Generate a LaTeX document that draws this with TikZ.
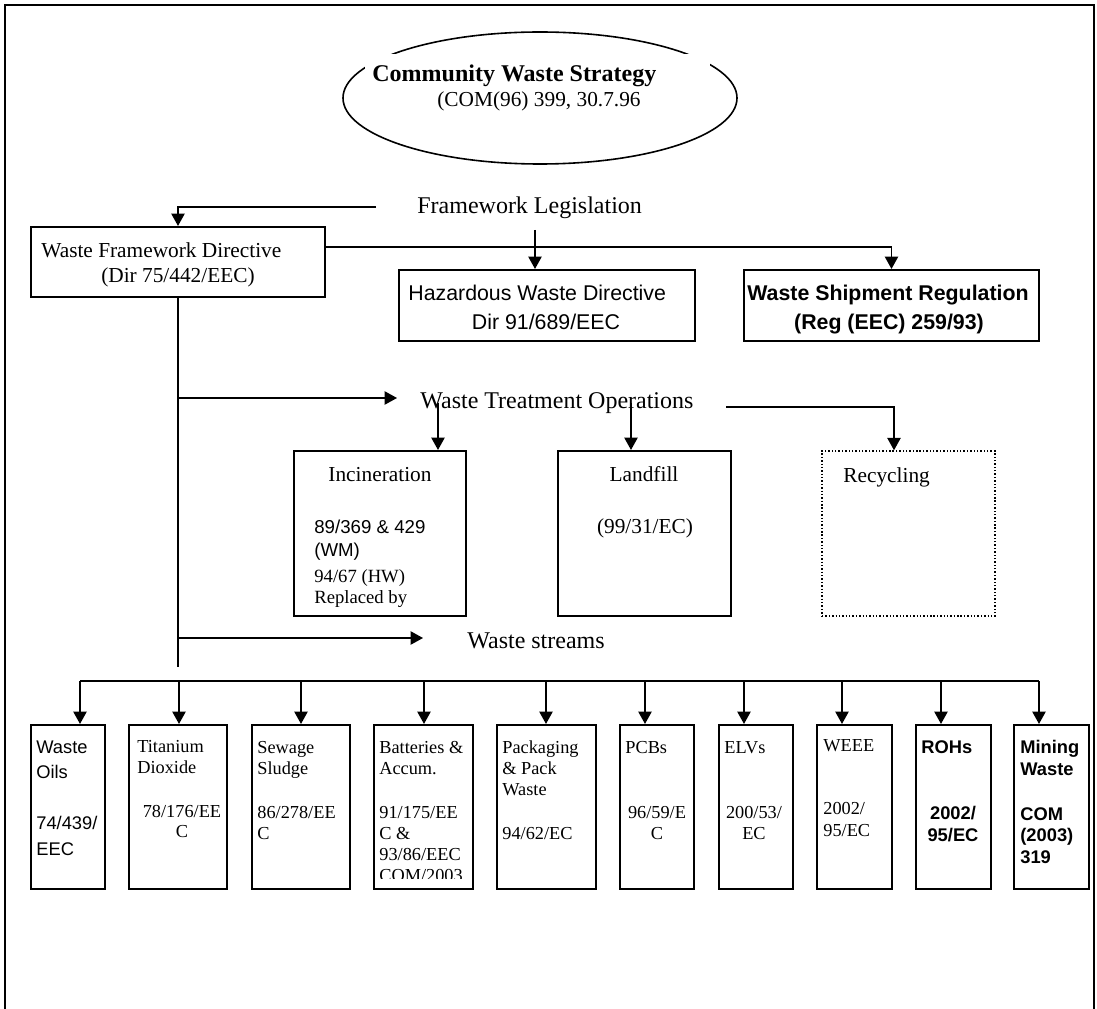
\documentclass[tikz,border=0pt]{standalone}
\usepackage{fontspec}
\setmainfont{Liberation Serif}
\setsansfont{Liberation Sans}
\usetikzlibrary{arrows.meta,shapes.geometric}
\newcommand{\px}{0.5625pt}
\tikzset{
  box/.style={draw, line width=1.15pt, inner sep=0pt},
  conn/.style={line width=.9pt},
  arr/.style={conn, -{Triangle[length=7pt,width=7.5pt]}},
  lbl/.style={inner sep=0pt, text height=.7em, text depth=0pt},
  txtbig/.style={lbl, font=\fontsize{13.5}{16}\selectfont},
  txt/.style={lbl, font=\fontsize{12}{14}\selectfont},
  txtsf/.style={lbl, font=\sffamily\fontsize{12}{14}\selectfont},
  txtsmall/.style={lbl, font=\fontsize{10.5}{12}\selectfont},
  txtsmallsf/.style={lbl, font=\sffamily\fontsize{10.5}{12}\selectfont},
  cell/.style={lbl, font=\fontsize{10.3}{12}\selectfont},
  cellsf/.style={lbl, font=\sffamily\fontsize{10.3}{12}\selectfont},
  cellbf/.style={lbl, font=\sffamily\bfseries\fontsize{10.3}{12}\selectfont},
  stream/.style={box, minimum height=164*\px},
}
\begin{document}
\begin{tikzpicture}[x=0.5625pt,y=-0.5625pt]
\useasboundingbox (0,0) rectangle (1097,1009);
\draw[line width=1.15pt] (5,1009) -- (5,5) -- (1094,5) -- (1094,1009);
% strategy
\node[draw, ellipse, line width=.9pt, inner sep=0pt, minimum width=394*\px, minimum height=132*\px] (cws) at (540,98) {};
\node[fill=white, inner sep=0pt, minimum width=345*\px, minimum height=62*\px] (cwsbg) at (537.5,85) {};
\node[txtbig, anchor=west, font=\bfseries\fontsize{13.5}{16}\selectfont] (cws1) at (372,75) {Community Waste Strategy};
\node[txt, anchor=west] (cws2) at (437,100) {(COM(96) 399, 30.7.96};
% framework legislation
\node[txtbig, anchor=west] (fl) at (417,207) {Framework Legislation};
\node[box, minimum width=294*\px, minimum height=70*\px] (wfd) at (178,262) {};
\node[txt, anchor=west] (wfd1) at (41,251) {Waste Framework Directive};
\node[txt] (wfd2) at (178,276) {(Dir 75/442/EEC)};
\node[box, minimum width=296*\px, minimum height=71*\px] (haz) at (547,305.5) {};
\node[txtsf, anchor=west] (haz1) at (408,294) {Hazardous Waste Directive};
\node[txtsf] (haz2) at (546,323) {Dir 91/689/EEC};
\node[box, minimum width=295*\px, minimum height=71*\px] (ship) at (891.5,305.5) {};
\node[txtsf, font=\sffamily\bfseries\fontsize{12}{14}\selectfont] (ship1) at (888,294) {Waste Shipment Regulation};
\node[txtsf, font=\sffamily\bfseries\fontsize{12}{14}\selectfont] (ship2) at (889,323) {(Reg (EEC) 259/93)};
\coordinate (flstart) at (376,207);
\coordinate (hazstart) at (535,230);
\coordinate (wfdout) at (325,247);
\draw[arr] (flstart) -| (wfd.north);
\draw[arr] (hazstart) -- (hazstart |- haz.north);
\draw[arr] (wfdout) -| (ship.north);
% trunk
\coordinate (trunkend) at (178,667);
\draw[conn] (wfd.south) -- (trunkend);
% treatment operations
\node[txtbig, anchor=west] (wto) at (420,402) {Waste Treatment Operations};
\coordinate (wtofeed) at (178,398);
\coordinate (wtotip) at (397,398);
\draw[arr] (wtofeed) -- (wtotip);
\node[box, minimum width=172*\px, minimum height=165*\px] (inc) at (380,533.5) {};
\node[txt] (inc1) at (380,475) {Incineration};
\node[txtsmallsf, anchor=west] (inc2) at (314,527) {89/369 \& 429};
\node[txtsmallsf, anchor=west] (inc3) at (314,550) {(WM)};
\node[txtsmall, anchor=west] (inc4) at (314,576) {94/67 (HW)};
\node[txtsmall, anchor=west] (inc5) at (314,597) {Replaced by};
\node[box, minimum width=173*\px, minimum height=165*\px] (lf) at (644.5,533.5) {};
\node[txt] (lf1) at (644,475) {Landfill};
\node[txt] (lf2) at (645,527) {(99/31/EC)};
\node[draw, dash pattern=on .8pt off 1.1pt, line width=.8pt, inner sep=0pt, minimum width=173*\px, minimum height=165*\px] (rec) at (908.5,533.5) {};
\node[txt, anchor=west] (rec1) at (843,476) {Recycling};
\coordinate (incfeed) at (438,403);
\coordinate (lffeed) at (631,403);
\coordinate (recfeed) at (726,407);
\coordinate (recdrop) at (894,407);
\draw[arr] (incfeed) -- (incfeed |- inc.north);
\draw[arr] (lffeed) -- (lffeed |- lf.north);
\draw[arr] (recfeed) -- (recdrop) -- (recdrop |- rec.north);
% waste streams
\node[txtbig, anchor=west] (ws) at (467,642) {Waste streams};
\coordinate (wsfeed) at (178,638);
\coordinate (wstip) at (423,638);
\draw[arr] (wsfeed) -- (wstip);
\node[stream, minimum width=74*\px] (oils) at (68,807) {};
\node[stream, minimum width=98*\px] (ti) at (178,807) {};
\node[stream, minimum width=98*\px] (sew) at (301,807) {};
\node[stream, minimum width=99*\px] (bat) at (423.5,807) {};
\node[stream, minimum width=99*\px] (pack) at (546.5,807) {};
\node[stream, minimum width=74*\px] (pcb) at (657,807) {};
\node[stream, minimum width=74*\px] (elv) at (756,807) {};
\node[stream, minimum width=75*\px] (weee) at (854.5,807) {};
\node[stream, minimum width=75*\px] (rohs) at (953.5,807) {};
\node[stream, minimum width=75*\px] (mine) at (1051.5,807) {};
\coordinate (b1) at (80,681);
\coordinate (b2) at (179,681);
\coordinate (b3) at (301,681);
\coordinate (b4) at (424,681);
\coordinate (b5) at (546,681);
\coordinate (b6) at (645,681);
\coordinate (b7) at (744,681);
\coordinate (b8) at (842,681);
\coordinate (b9) at (941,681);
\coordinate (b10) at (1039,681);
\draw[conn] (b1) -- (b10);
\draw[arr] (b1) -- (b1 |- oils.north);
\draw[arr] (b2) -- (b2 |- ti.north);
\draw[arr] (b3) -- (b3 |- sew.north);
\draw[arr] (b4) -- (b4 |- bat.north);
\draw[arr] (b5) -- (b5 |- pack.north);
\draw[arr] (b6) -- (b6 |- pcb.north);
\draw[arr] (b7) -- (b7 |- elv.north);
\draw[arr] (b8) -- (b8 |- weee.north);
\draw[arr] (b9) -- (b9 |- rohs.north);
\draw[arr] (b10) -- (b10 |- mine.north);
% stream labels
\node[cellsf, anchor=west] (oils1) at (36,747) {Waste};
\node[cellsf, anchor=west] (oils2) at (36,772) {Oils};
\node[cellsf, anchor=west] (oils3) at (36,823) {74/439/};
\node[cellsf, anchor=west] (oils4) at (36,849) {EEC};
\node[cell, anchor=west] (ti1) at (137,746) {Titanium};
\node[cell, anchor=west] (ti2) at (137,767) {Dioxide};
\node[cell] (ti3) at (182,811) {78/176/EE};
\node[cell] (ti4) at (182,831) {C};
\node[cell, anchor=west] (sew1) at (257,747) {Sewage};
\node[cell, anchor=west] (sew2) at (257,768) {Sludge};
\node[cell, anchor=west] (sew3) at (257,812) {86/278/EE};
\node[cell, anchor=west] (sew4) at (257,833) {C};
\node[cell, anchor=west] (bat1) at (379,747) {Batteries \&};
\node[cell, anchor=west] (bat2) at (379,768) {Accum.};
\node[cell, anchor=west] (bat3) at (379,812) {91/175/EE};
\node[cell, anchor=west] (bat4) at (379,833) {C \&};
\node[cell, anchor=west] (bat5) at (379,854) {93/86/EEC};
\begin{scope}
\clip (374,725) rectangle (473,878);
\node[cell, anchor=west] (bat6) at (379,875) {COM/2003};
\end{scope}
\node[cell, anchor=west] (pack1) at (502,747) {Packaging};
\node[cell, anchor=west] (pack2) at (502,768) {\& Pack};
\node[cell, anchor=west] (pack3) at (502,789) {Waste};
\node[cell, anchor=west] (pack4) at (502,833) {94/62/EC};
\node[cell, anchor=west] (pcb1) at (625,747) {PCBs};
\node[cell] (pcb2) at (657,812) {96/59/E};
\node[cell] (pcb3) at (657,833) {C};
\node[cell, anchor=west] (elv1) at (724,747) {ELVs};
\node[cell] (elv2) at (754,812) {200/53/};
\node[cell] (elv3) at (754,833) {EC};
\node[cell, anchor=west] (weee1) at (823,745) {WEEE};
\node[cell, anchor=west] (weee2) at (823,808) {2002/};
\node[cell, anchor=west] (weee3) at (823,830) {95/EC};
\node[cellbf, anchor=west] (rohs1) at (921,747) {ROHs};
\node[cellbf] (rohs2) at (953,813) {2002/};
\node[cellbf] (rohs3) at (953,835) {95/EC};
\node[cellbf, anchor=west] (mine1) at (1020,747) {Mining};
\node[cellbf, anchor=west] (mine2) at (1020,769) {Waste};
\node[cellbf, anchor=west] (mine3) at (1020,814) {COM};
\node[cellbf, anchor=west] (mine4) at (1020,835) {(2003)};
\node[cellbf, anchor=west] (mine5) at (1020,857) {319};
\end{tikzpicture}
\end{document}
